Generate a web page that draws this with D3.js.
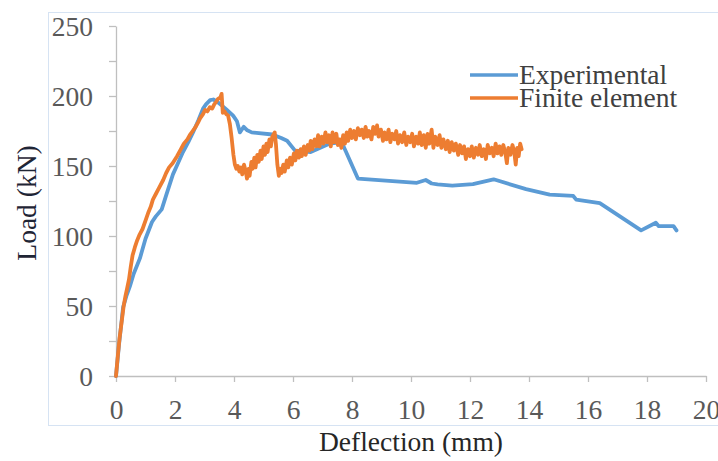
<!DOCTYPE html>
<html>
<head>
<meta charset="utf-8">
<script src="https://cdn.jsdelivr.net/npm/d3@7"></script>
<style>
  html, body { margin: 0; padding: 0; background: #ffffff; }
  svg { display: block; }
</style>
</head>
<body>
<svg id="chart" width="718" height="461"></svg>
<script>
// Load–deflection curves: test result and FE model
const seriesNames = ["Experimental", "Finite element"];
const seriesColors = ["#5b9bd5", "#ed7d31"];

const xTicks = [0, 2, 4, 6, 8, 10, 12, 14, 16, 18, 20];
const yTicks = [0, 25, 50, 75, 100, 125, 150, 175, 200, 225, 250];
const yLabelled = [0, 50, 100, 150, 200, 250];

// [deflection mm, load kN]
const experimental = [
  [0, 0], [0.1, 22], [0.24, 49], [0.35, 57], [0.47, 64], [0.6, 73], [0.81, 84],
  [1.0, 98], [1.22, 110], [1.35, 114], [1.55, 119], [1.7, 129], [1.93, 144],
  [2.1, 152], [2.27, 160], [2.45, 167], [2.61, 174], [2.8, 183], [2.95, 191],
  [3.05, 194], [3.19, 197], [3.3, 197.5], [3.42, 196], [3.6, 193], [3.76, 190],
  [3.97, 186], [4.1, 182], [4.2, 174], [4.33, 178], [4.45, 175.5], [4.6, 174],
  [5.3, 172.5], [5.6, 170], [5.8, 168], [6.07, 161], [6.6, 160], [7.25, 166],
  [7.65, 167], [7.8, 160], [8.2, 141], [10.2, 138], [10.5, 140], [10.7, 137.5],
  [10.9, 136.8], [11.4, 136], [12.1, 137], [12.8, 140.5], [13.9, 133.5],
  [14.7, 129.5], [15.5, 128.6], [15.6, 126], [16.4, 123.5], [17.8, 104],
  [18.3, 109.5], [18.4, 107], [18.9, 107], [19.0, 104]
];

const finiteElement = [
  [0, 0], [0.06, 14], [0.12, 27], [0.2, 40], [0.26, 50], [0.32, 57], [0.38, 63],
  [0.44, 69], [0.5, 78], [0.56, 86], [0.64, 92], [0.72, 97], [0.8, 101],
  [0.9, 105], [1.0, 111], [1.1, 117], [1.18, 121], [1.25, 126], [1.35, 130],
  [1.45, 134], [1.6, 140], [1.7, 145], [1.8, 149], [1.92, 152], [2.07, 157],
  [2.2, 162], [2.3, 166], [2.42, 169], [2.5, 172], [2.6, 175], [2.7, 178],
  [2.78, 181], [2.85, 184], [2.95, 187], [3.02, 190], [3.1, 189], [3.18, 192],
  [3.26, 191], [3.33, 194], [3.4, 196], [3.46, 198], [3.54, 199], [3.58, 201.5],
  [3.62, 188], [3.68, 189], [3.74, 187], [3.8, 186], [3.86, 180], [3.92, 170],
  [3.98, 158], [4.03, 151], [4.08, 148], [4.13, 150], [4.18, 146], [4.24, 149],
  [4.28, 144], [4.34, 151], [4.4, 146], [4.44, 141], [4.49, 148], [4.53, 143],
  [4.59, 153], [4.63, 148], [4.69, 156], [4.73, 149], [4.79, 158], [4.84, 153],
  [4.9, 161], [4.94, 155], [5.0, 164], [5.05, 158], [5.1, 166], [5.14, 160],
  [5.2, 169], [5.25, 164], [5.3, 171], [5.38, 174], [5.42, 166], [5.47, 151],
  [5.52, 143], [5.57, 148], [5.61, 145], [5.67, 151], [5.72, 146], [5.79, 154],
  [5.84, 149], [5.9, 156], [5.96, 151], [6.03, 159], [6.08, 154], [6.13, 161],
  [6.2, 156], [6.26, 162], [6.3, 157], [6.37, 164], [6.43, 158], [6.5, 165],
  [6.55, 161], [6.6, 168], [6.66, 162], [6.73, 169], [6.79, 164], [6.85, 172],
  [6.9, 164], [6.97, 171], [7.03, 166], [7.1, 174], [7.15, 167], [7.22, 172],
  [7.28, 164], [7.34, 174], [7.4, 167], [7.47, 173], [7.52, 165], [7.58, 169],
  [7.64, 163], [7.7, 172], [7.76, 166], [7.82, 174], [7.87, 168], [7.94, 176],
  [8.0, 170], [8.07, 175], [8.13, 169], [8.2, 177], [8.27, 172], [8.33, 176],
  [8.4, 170], [8.46, 178], [8.52, 171], [8.58, 175], [8.66, 169], [8.72, 178],
  [8.78, 173], [8.85, 179], [8.9, 171], [8.98, 176], [9.05, 168], [9.1, 174],
  [9.17, 169], [9.24, 176], [9.3, 167], [9.37, 173], [9.44, 169], [9.5, 175],
  [9.56, 166], [9.63, 172], [9.7, 167], [9.77, 174], [9.84, 165], [9.9, 171],
  [9.97, 167], [10.04, 173], [10.1, 164], [10.17, 171], [10.24, 166],
  [10.3, 174], [10.36, 165], [10.43, 172], [10.5, 163], [10.56, 173],
  [10.62, 166], [10.7, 176], [10.76, 163], [10.82, 171], [10.9, 165],
  [10.97, 172], [11.03, 163], [11.1, 169], [11.18, 162], [11.25, 168],
  [11.31, 160], [11.38, 167], [11.45, 161], [11.52, 166], [11.6, 158],
  [11.66, 165], [11.73, 159], [11.8, 164], [11.86, 155], [11.93, 162],
  [12.0, 157], [12.06, 164], [12.13, 156], [12.2, 163], [12.27, 158],
  [12.33, 165], [12.4, 157], [12.47, 162], [12.54, 155], [12.6, 165],
  [12.67, 159], [12.74, 163], [12.8, 157], [12.87, 166], [12.93, 159],
  [13.0, 164], [13.06, 158], [13.13, 165], [13.2, 159], [13.25, 152],
  [13.3, 163], [13.37, 158], [13.44, 165], [13.5, 160], [13.55, 151],
  [13.6, 163], [13.65, 157], [13.7, 166], [13.75, 162]
];

const serif = '"Liberation Serif"';
const fontSize = 27.5;
const svg = d3.select("#chart");

// chart area frame
svg.append("rect")
  .attr("x", 48.5).attr("y", 12.5)
  .attr("width", 680).attr("height", 413)
  .attr("fill", "none")
  .attr("stroke", "#d6e3f3")
  .attr("stroke-width", 1);

const x = d3.scaleLinear().domain([0, 20]).range([116, 706]);
const y = d3.scaleLinear().domain([0, 250]).range([376, 26]);

const axisColor = "#bfbfbf";
const tickTextColor = "#595959";

// y axis
const yAxis = svg.append("g")
  .attr("transform", `translate(${x(0)},0)`)
  .call(d3.axisLeft(y)
    .tickValues(yTicks)
    .tickSize(7)
    .tickSizeOuter(0)
    .tickPadding(16)
    .tickFormat(d => yLabelled.includes(d) ? d3.format("d")(d) : ""));

// x axis
const xAxis = svg.append("g")
  .attr("transform", `translate(0,${y(0)})`)
  .call(d3.axisBottom(x)
    .tickValues(xTicks)
    .tickSize(6)
    .tickSizeOuter(0)
    .tickPadding(17)
    .tickFormat(d3.format("d")));

[xAxis, yAxis].forEach(g => {
  g.select(".domain").attr("stroke", axisColor).attr("stroke-width", 1.3);
  g.selectAll(".tick line").attr("stroke", axisColor).attr("stroke-width", 1.3);
  g.selectAll(".tick text")
    .attr("fill", tickTextColor)
    .style("font-family", serif)
    .style("font-size", fontSize + "px");
});
yAxis.selectAll(".tick text").attr("dy", "0.34em");

// axis titles
svg.append("text")
  .attr("x", (x(0) + x(20)) / 2)
  .attr("y", 451)
  .attr("text-anchor", "middle")
  .attr("fill", "#262626")
  .style("font-family", serif)
  .style("font-size", fontSize + "px")
  .text("Deflection (mm)");

svg.append("text")
  .attr("transform", "translate(36,203) rotate(-90)")
  .attr("text-anchor", "middle")
  .attr("fill", "#1f2535")
  .style("font-family", serif)
  .style("font-size", fontSize + "px")
  .text("Load (kN)");

// curves
const line = d3.line()
  .x(d => x(d[0]))
  .y(d => y(d[1]));

[experimental, finiteElement].forEach((data, i) => {
  svg.append("path")
    .datum(data)
    .attr("fill", "none")
    .attr("stroke", seriesColors[i])
    .attr("stroke-width", 3.8)
    .attr("stroke-linejoin", "round")
    .attr("stroke-linecap", "round")
    .attr("d", line);
});

// legend
const legend = svg.append("g");
seriesNames.forEach((name, i) => {
  const ly = 75 + i * 23;
  legend.append("line")
    .attr("x1", 470).attr("x2", 518)
    .attr("y1", ly).attr("y2", ly)
    .attr("stroke", seriesColors[i])
    .attr("stroke-width", 3.6);
  legend.append("text")
    .attr("x", 519).attr("y", ly + 9)
    .attr("fill", "#404040")
    .style("font-family", serif)
    .style("font-size", fontSize + "px")
    .text(name);
});
</script>
</body>
</html>
